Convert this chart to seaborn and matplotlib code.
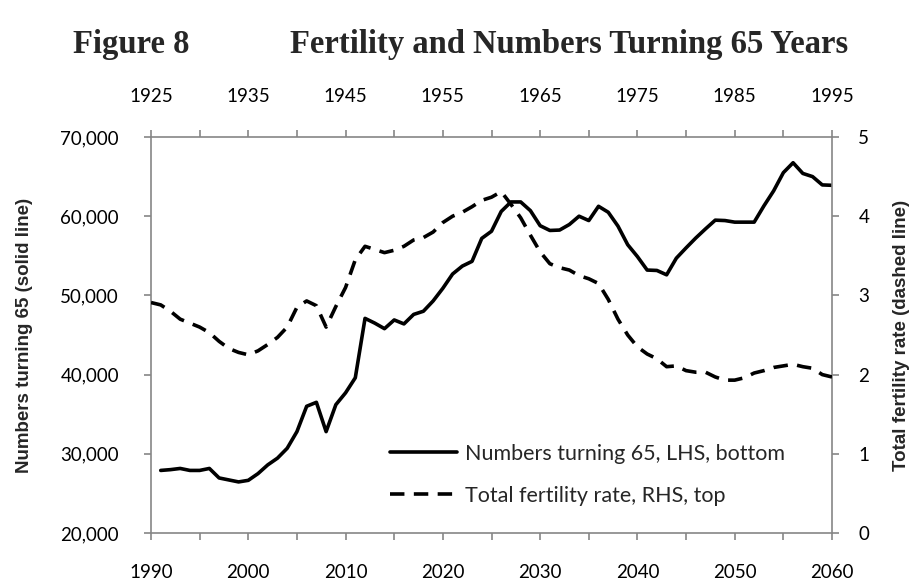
import numpy as np
import pandas as pd
import seaborn as sns
import matplotlib.pyplot as plt
from matplotlib.ticker import FuncFormatter, MultipleLocator, FixedLocator
from matplotlib.lines import Line2D

# Numbers turning 65 (bottom axis, LHS)
years_65 = list(range(1991, 2061))
turning_65 = [27900, 28000, 28150, 27900, 27900, 28150, 26950, 26700, 26450, 26650,
              27500, 28600, 29450, 30700, 32800, 36000, 36500, 32800, 36200, 37700,
              39600, 47100, 46500, 45800, 46900, 46400, 47600, 48000, 49300, 50900,
              52700, 53700, 54300, 57200, 58100, 60600, 61800, 61800, 60700, 58800,
              58200, 58250, 58950, 60000, 59450, 61250, 60500, 58750, 56400, 54900,
              53200, 53150, 52600, 54700, 56000, 57250, 58400, 59500, 59450, 59250,
              59250, 59250, 61300, 63200, 65500, 66750, 65400, 65000, 63950, 63900]

# Total fertility rate (top axis, RHS)
years_tfr = list(range(1925, 1996))
tfr = [2.91, 2.88, 2.80, 2.70, 2.65, 2.60, 2.53, 2.42, 2.33, 2.28,
       2.25, 2.30, 2.38, 2.47, 2.60, 2.85, 2.93, 2.87, 2.60, 2.86,
       3.10, 3.45, 3.62, 3.58, 3.54, 3.57, 3.62, 3.70, 3.73, 3.80,
       3.92, 4.00, 4.05, 4.12, 4.20, 4.24, 4.31, 4.15, 3.98, 3.76,
       3.55, 3.40, 3.35, 3.32, 3.25, 3.21, 3.15, 2.95, 2.70, 2.50,
       2.35, 2.26, 2.20, 2.10, 2.11, 2.05, 2.03, 2.03, 1.97, 1.93,
       1.93, 1.96, 2.02, 2.05, 2.09, 2.11, 2.13, 2.10, 2.08, 2.00,
       1.97]

top_labels = list(range(1925, 1996, 10))

df65 = pd.DataFrame({'year': years_65, 'n': turning_65})
dftfr = pd.DataFrame({'year': years_tfr, 'tfr': tfr})

sns.set_style('white')
plt.rcParams['font.family'] = ['Lato', 'DejaVu Sans']

grey = '#868686'
fig = plt.figure(figsize=(9.14, 5.83), dpi=100)
pos = [151/914, 50/583, 681/914, 396/583]
ax = fig.add_axes(pos)
ax2 = fig.add_axes(pos, frameon=False)

sns.lineplot(data=df65, x='year', y='n', ax=ax, color='black', lw=2.6)
sns.lineplot(data=dftfr, x='year', y='tfr', ax=ax2, color='black', lw=2.6,
             linestyle=(0, (4, 2.6)))

ax.set_xlim(1990, 2060)
ax.set_ylim(20000, 70000)
ax2.set_xlim(1925, 1995)
ax2.set_ylim(0, 5)

ax.xaxis.set_major_locator(MultipleLocator(10))
ax.xaxis.set_minor_locator(MultipleLocator(5))
ax.yaxis.set_major_locator(MultipleLocator(10000))
ax.yaxis.set_major_formatter(FuncFormatter(lambda v, p: f'{int(v):,}'))
ax2.xaxis.set_major_locator(FixedLocator(top_labels))
ax2.xaxis.set_minor_locator(MultipleLocator(5))
ax2.yaxis.set_major_locator(MultipleLocator(1))

ax2.xaxis.tick_top()
ax2.yaxis.tick_right()
ax2.yaxis.set_label_position('right')

for a in (ax, ax2):
    a.tick_params(which='both', direction='out', length=5, width=1.2, color=grey,
                  labelsize=13.5, labelcolor='black')
ax.tick_params(axis='x', which='both', bottom=True, pad=17)
ax.tick_params(axis='y', left=True, pad=18)
ax2.tick_params(axis='x', which='both', top=True, bottom=False, pad=18)
ax2.tick_params(axis='y', right=True, left=False, pad=14)

for s in ax.spines.values():
    s.set_color(grey)
    s.set_linewidth(1.2)
    s.set_visible(True)

lab_font = dict(fontsize=13.5, fontweight='bold', family='Liberation Sans')
ax.set_xlabel('')
ax2.set_xlabel('')
ax.set_ylabel('Numbers turning 65 (solid line)', **lab_font)
ax2.set_ylabel('Total fertility rate (dashed line)', **lab_font)
ax.yaxis.set_label_coords(-0.173, 0.5)
ax2.yaxis.set_label_coords(1.09, 0.5)

handles = [Line2D([], [], color='black', lw=2.6),
           Line2D([], [], color='black', lw=2.6, linestyle=(0, (4, 2.6)))]
ax2.legend(handles, ['Numbers turning 65, LHS, bottom', 'Total fertility rate, RHS, top'],
           loc='upper left', bbox_to_anchor=(390/914, 1 - 444/583),
           bbox_transform=fig.transFigure, frameon=False, fontsize=15.5,
           handlelength=3.1, handletextpad=0.4, labelspacing=1.0,
           borderpad=0, borderaxespad=0)

fig.text(73/914, 1 - 45/583, 'Figure 8', fontsize=23.5, fontweight='bold',
         family='Liberation Serif', va='center', ha='left')
fig.text(290/914, 1 - 45/583, 'Fertility and Numbers Turning 65 Years', fontsize=23.5,
         fontweight='bold', family='Liberation Serif', va='center', ha='left')

fig.savefig('out.png', dpi=100)
